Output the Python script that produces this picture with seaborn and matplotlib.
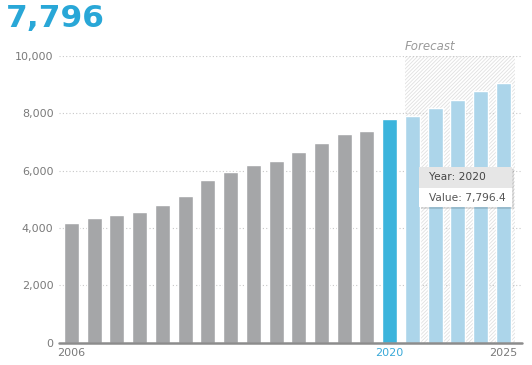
import matplotlib
matplotlib.use("Agg")
import matplotlib.pyplot as plt
from matplotlib.patches import Rectangle
import seaborn as sns
import pandas as pd

# ===== DATA =====
years = [2006, 2007, 2008, 2009, 2010, 2011, 2012, 2013, 2014, 2015,
         2016, 2017, 2018, 2019, 2020, 2021, 2022, 2023, 2024, 2025]
values = [4185, 4360, 4465, 4570, 4800, 5100, 5660, 5940, 6185, 6325,
          6665, 6970, 7275, 7395, 7796.4, 7895, 8175, 8470, 8775, 9075]
shown_years = ["2006", "2020", "2025"]
y_ticks = [0, 2000, 4000, 6000, 8000, 10000]

GRAY = "#a5a6a8"
BLUE = "#3cb4dc"
LIGHT = "#acd5ea"
TEXT = "#7a7a7a"

df = pd.DataFrame({"year": [str(y) for y in years], "value": values})
palette = {}
for y in years:
    if y < 2020:
        palette[str(y)] = GRAY
    elif y == 2020:
        palette[str(y)] = BLUE
    else:
        palette[str(y)] = LIGHT

sns.set_style("white")
plt.rcParams["font.family"] = ["DejaVu Sans"]
plt.rcParams["hatch.linewidth"] = 0.6

fig = plt.figure(figsize=(5.32, 3.65), dpi=100)
ax = fig.add_axes([59 / 532, 1 - 342.7 / 365, (521.7 - 59) / 532, (342.7 - 56) / 365])

# forecast shading
ax.axvspan(14.67, 19.51, facecolor="white", edgecolor="#e0e0e0",
           hatch="/" * 9, linewidth=0, zorder=0)

# grid
for t in y_ticks[1:]:
    ax.axhline(t, color="#c8c8c8", linewidth=0.8, linestyle=(0, (1, 2)), zorder=0.5)

sns.barplot(data=df, x="year", y="value", hue="year", palette=palette,
            legend=False, width=0.66, saturation=1, ax=ax, zorder=2)

ax.axhline(0, color="#8c8c8c", linewidth=1.8, zorder=3, clip_on=False)

ax.set_xlim(-0.55, 19.81)
ax.set_ylim(0, 10000)
ax.set_yticks(y_ticks)
ax.set_yticklabels([f"{t:,}" for t in y_ticks])
ax.set_xticks([years.index(int(s)) for s in shown_years])
ax.set_xticklabels(shown_years)
ax.tick_params(axis="y", length=3, width=0.8, color="#b0b0b0", pad=1,
               labelsize=8, labelcolor=TEXT)
ax.tick_params(axis="x", length=0, pad=4, labelsize=8, labelcolor=TEXT)
for lbl in ax.get_xticklabels():
    if lbl.get_text() == "2020":
        lbl.set_color("#3aa9d8")
ax.set_xlabel("")
ax.set_ylabel("")
sns.despine(ax=ax, left=True, bottom=True)

# headline + forecast label
fig.text(6 / 532, 1 - 4 / 365, "7,796", color="#29a7d7", fontsize=22.5,
         fontweight="bold", va="top", ha="left")
fig.text(405 / 532, 1 - 46 / 365, "Forecast", color="#9a9a9a", fontsize=8.5,
         style="italic", va="center", ha="left")

# tooltip
x0, x1 = 419 / 532, 512 / 532
ytop, ymid, ybot = 1 - 167 / 365, 1 - 188 / 365, 1 - 207 / 365
fig.add_artist(Rectangle((x0 + 2 / 532, ybot - 2 / 365), x1 - x0, ytop - ybot,
                         transform=fig.transFigure, facecolor="#000000",
                         alpha=0.12, linewidth=0, zorder=10))
fig.add_artist(Rectangle((x0, ymid), x1 - x0, ytop - ymid, transform=fig.transFigure,
                         facecolor="#e6e6e6", linewidth=0, zorder=11))
fig.add_artist(Rectangle((x0, ybot), x1 - x0, ymid - ybot, transform=fig.transFigure,
                         facecolor="white", linewidth=0, zorder=11))
fig.text(429 / 532, (ytop + ymid) / 2, "Year: 2020", color="#444444", fontsize=7.7,
         va="center", ha="left", zorder=12)
fig.text(429 / 532, (ymid + ybot) / 2, "Value: 7,796.4", color="#555555", fontsize=7.7,
         va="center", ha="left", zorder=12)

fig.savefig("out.png", dpi=100)
